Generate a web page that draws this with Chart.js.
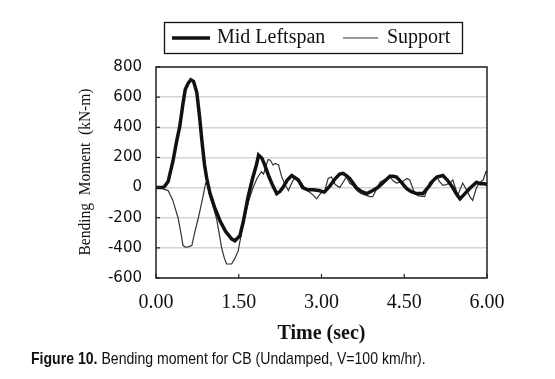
<!DOCTYPE html>
<html>
<head>
<meta charset="utf-8">
<script src="https://cdn.jsdelivr.net/npm/chart.js@4.4.0/dist/chart.umd.min.js"></script>
<style>
  html, body { margin: 0; padding: 0; background: #fff; }
  #wrap { position: relative; width: 555px; height: 379px; }
  #chart { position: absolute; left: 0; top: 0; }
  #caption {
    position: absolute; left: 31px; top: 349px; white-space: nowrap;
    font-family: "Liberation Sans", Arial, sans-serif; font-size: 17px; color: #111;
    transform: scaleX(0.828); transform-origin: left top;
  }
</style>
</head>
<body>
<div id="wrap">
  <canvas id="chart" width="555" height="379"></canvas>
  <div id="caption"><b>Figure 10.</b> Bending moment for CB (Undamped, V=100 km/hr).</div>
</div>
<script>
// series names
const seriesNames = ["Mid Leftspan", "Support"];

// Mid Leftspan: time (sec) / bending moment (kN-m)
const midTime = [0, 0.1, 0.15, 0.22, 0.31, 0.37, 0.43, 0.49, 0.53, 0.58, 0.63, 0.68, 0.74, 0.79, 0.83, 0.88,
  0.92, 0.98, 1.06, 1.16, 1.26, 1.37, 1.43, 1.52, 1.58, 1.67, 1.75, 1.82, 1.86, 1.92, 1.97, 2.05, 2.12,
  2.19, 2.25, 2.3, 2.38, 2.46, 2.52, 2.58, 2.66, 2.75, 2.85, 2.95, 3.05, 3.15, 3.25, 3.33, 3.39, 3.45,
  3.51, 3.63, 3.72, 3.82, 3.93, 4.02, 4.11, 4.24, 4.3, 4.36, 4.45, 4.54, 4.62, 4.72, 4.84, 4.95, 5.02,
  5.09, 5.2, 5.28, 5.38, 5.45, 5.51, 5.6, 5.69, 5.81, 5.88, 5.96, 6.0];
const midMoment = [0, 0, 5, 40, 180, 300, 404, 560, 650, 690, 715, 705, 630, 470, 318, 150,
  60, -40, -130, -220, -290, -340, -353, -320, -230, -60, 60, 150, 215, 195, 150, 70, 10,
  -40, -25, 0, 50, 80, 65, 50, 0, -15, -15, -20, -30, 10, 60, 90, 95, 80,
  60, 0, -25, -40, -20, 0, 30, 75, 75, 70, 35, -5, -25, -40, -40, 10, 45,
  70, 80, 50, 0, -45, -75, -40, -5, 35, 25, 25, 20];

// Support: time (sec) / bending moment (kN-m)
const supTime = [0, 0.1, 0.22, 0.3, 0.4, 0.46, 0.49, 0.53, 0.58, 0.65, 0.7, 0.77, 0.84, 0.9, 0.93, 0.98,
  1.04, 1.1, 1.19, 1.24, 1.28, 1.37, 1.43, 1.49, 1.55, 1.61, 1.68, 1.76, 1.83, 1.91, 1.95, 2.03, 2.07,
  2.12, 2.16, 2.22, 2.28, 2.34, 2.4, 2.46, 2.52, 2.58, 2.64, 2.7, 2.78, 2.85, 2.91, 2.98, 3.06, 3.12,
  3.18, 3.25, 3.33, 3.4, 3.45, 3.51, 3.58, 3.64, 3.72, 3.8, 3.88, 3.93, 4.0, 4.06, 4.18, 4.24, 4.3,
  4.36, 4.47, 4.55, 4.6, 4.69, 4.76, 4.87, 4.96, 5.05, 5.09, 5.14, 5.2, 5.26, 5.33, 5.38, 5.47, 5.56,
  5.62, 5.69, 5.74, 5.81, 5.87, 5.93, 5.98, 6.0];
const supMoment = [0, -5, -20, -80, -200, -320, -385, -395, -393, -385, -300, -197, -80, 30, 20, -60,
  -130, -210, -400, -470, -507, -507, -470, -420, -300, -195, -90, 0, 60, 105, 90, 185, 183,
  150, 160, 150, 70, 20, -20, 30, 70, 40, 30, -10, -30, -50, -75, -40, -20, 60,
  70, 20, 0, 40, 70, 30, 10, -20, -40, -50, -60, -60, -10, 35, 60, 70, 45,
  30, 40, 60, 50, -40, -55, -60, 35, 60, 70, 40, 15, 20, 30, 50, -50, 30,
  -10, -60, -85, 0, 35, 50, 105, 100];

// axis ticks
const xTicks = [0, 1.5, 3.0, 4.5, 6.0];
const yTicks = [-600, -400, -200, 0, 200, 400, 600, 800];

const toPoints = (xs, ys) => xs.map((x, i) => ({ x: x, y: ys[i] }));

// frame, inward tick marks, boxed legend, condensed y title
const decorations = {
  id: "decorations",
  afterDraw(chart) {
    const ctx = chart.ctx;
    const a = chart.chartArea;
    const xs = chart.scales.x;
    const ys = chart.scales.y;
    ctx.save();

    // plot frame
    ctx.strokeStyle = "#222";
    ctx.lineWidth = 1.5;
    ctx.strokeRect(a.left, a.top, a.right - a.left, a.bottom - a.top);

    // inward ticks
    ctx.lineWidth = 1.2;
    xTicks.forEach((t) => {
      const px = xs.getPixelForValue(t);
      ctx.beginPath();
      ctx.moveTo(px, a.bottom);
      ctx.lineTo(px, a.bottom - 4);
      ctx.stroke();
    });
    yTicks.forEach((t) => {
      const py = ys.getPixelForValue(t);
      ctx.beginPath();
      ctx.moveTo(a.left, py);
      ctx.lineTo(a.left + 4, py);
      ctx.stroke();
    });

    // legend box
    ctx.strokeStyle = "#111";
    ctx.lineWidth = 1.3;
    ctx.strokeRect(164.5, 22.5, 298, 31);
    ctx.font = '20px "Liberation Serif", "Times New Roman", serif';
    ctx.fillStyle = "#111";
    ctx.textBaseline = "middle";
    const ds = chart.data.datasets;
    ctx.strokeStyle = ds[0].borderColor;
    ctx.lineWidth = ds[0].borderWidth;
    ctx.beginPath(); ctx.moveTo(172, 38); ctx.lineTo(210, 38); ctx.stroke();
    ctx.fillText(ds[0].label, 217, 38);
    ctx.strokeStyle = ds[1].borderColor;
    ctx.lineWidth = ds[1].borderWidth;
    ctx.beginPath(); ctx.moveTo(343, 38); ctx.lineTo(378, 38); ctx.stroke();
    ctx.fillText(ds[1].label, 387, 38);

    // y title (condensed serif)
    const yTitle = "Bending  Moment  (kN-m)";
    ctx.font = '17px "Liberation Serif", "Times New Roman", serif';
    const w = ctx.measureText(yTitle).width;
    ctx.translate(86, 172);
    ctx.rotate(-Math.PI / 2);
    ctx.scale(167 / w, 1);
    ctx.textAlign = "center";
    ctx.fillText(yTitle, 0, 0);

    ctx.restore();
  }
};

new Chart(document.getElementById("chart"), {
  type: "scatter",
  data: {
    datasets: [
      {
        label: seriesNames[0],
        data: toPoints(midTime, midMoment),
        showLine: true,
        borderColor: "#111",
        borderWidth: 3.5,
        pointRadius: 0,
        tension: 0,
      },
      {
        label: seriesNames[1],
        data: toPoints(supTime, supMoment),
        showLine: true,
        borderColor: "#333",
        borderWidth: 1.2,
        pointRadius: 0,
        tension: 0,
      },
    ],
  },
  options: {
    responsive: false,
    animation: false,
    layout: { padding: { top: 67, right: 68, left: 0, bottom: 0 } },
    plugins: { legend: { display: false }, tooltip: { enabled: false } },
    scales: {
      x: {
        type: "linear",
        min: 0,
        max: 6,
        afterBuildTicks: (s) => { s.ticks = xTicks.map((v) => ({ value: v })); },
        afterFit: (s) => { s.height = 101; },
        grid: { display: false, drawTicks: false },
        border: { display: false },
        ticks: {
          padding: 13,
          color: "#111",
          font: { family: '"Liberation Serif", "Times New Roman", serif', size: 20 },
          callback: (v) => Number(v).toFixed(2),
        },
        title: {
          display: true,
          text: "Time (sec)",
          color: "#111",
          font: { family: '"Liberation Serif", "Times New Roman", serif', size: 20, weight: "bold" },
          padding: { top: 0, bottom: 33 },
        },
      },
      y: {
        min: -600,
        max: 800,
        afterBuildTicks: (s) => { s.ticks = yTicks.map((v) => ({ value: v })); },
        afterFit: (s) => { s.width = 156; },
        grid: { color: "#d4d4d4", lineWidth: 1.5, drawTicks: false },
        border: { display: false },
        ticks: {
          padding: 14,
          color: "#111",
          font: { family: '"DejaVu Sans", Verdana, sans-serif', size: 15 },
        },
      },
    },
  },
  plugins: [decorations],
});
</script>
</body>
</html>
